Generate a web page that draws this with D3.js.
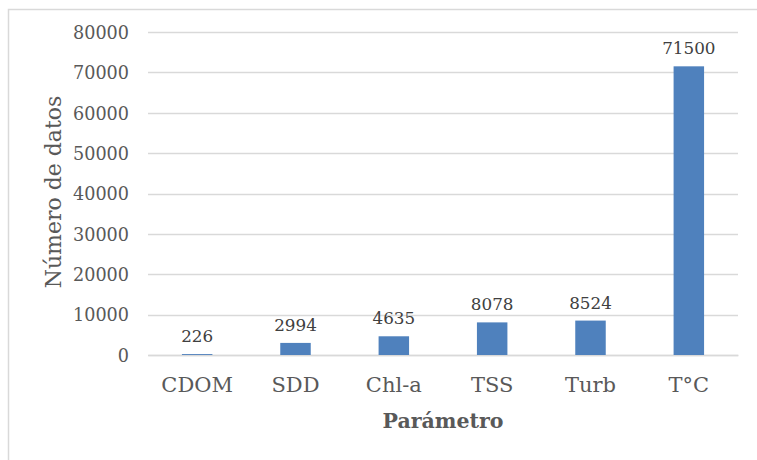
<!DOCTYPE html>
<html><head><meta charset="utf-8">
<script src="https://cdn.jsdelivr.net/npm/d3@7"></script>
<style>body{margin:0;background:#fff}svg{display:block}</style>
</head><body>
<script>
const categories = ["CDOM","SDD","Chl-a","TSS","Turb","T°C"];
const values = [226,2994,4635,8078,8524,71500];
const yTicks = [0,10000,20000,30000,40000,50000,60000,70000,80000];
const xTitle = "Parámetro";
const yTitle = "Número de datos";

const W=757,H=460;
const font = "'DejaVu Serif', serif";
const svg = d3.select("body").append("svg").attr("width",W).attr("height",H);
svg.append("rect").attr("width",W).attr("height",H).attr("fill","#fff");
// frame
svg.append("path").attr("d",`M8.5,${H} L8.5,9.5 L${W},9.5`).attr("fill","none").attr("stroke","#d9d9d9").attr("stroke-width",1.5);

const x = d3.scaleBand().domain(categories).range([148,738]).paddingInner(0.69).paddingOuter(0.345);
const y = d3.scaleLinear().domain([0,80000]).range([355,32]);

// gridlines
svg.append("g").selectAll("line").data(yTicks).join("line")
  .attr("x1",148).attr("x2",738).attr("y1",d=>Math.round(y(d))+0.5).attr("y2",d=>Math.round(y(d))+0.5)
  .attr("stroke","#d9d9d9").attr("stroke-width",1.3);

// y axis
const yAxis = svg.append("g").attr("transform","translate(148,0)")
  .call(d3.axisLeft(y).tickValues(yTicks).tickFormat(d3.format("d")).tickSize(0).tickPadding(19));
yAxis.select(".domain").remove();
yAxis.selectAll("text").attr("font-family",font).attr("font-size",17.6).attr("fill","#595959").attr("dy","0.36em");

// x axis
const xAxis = svg.append("g").attr("transform","translate(0,355)")
  .call(d3.axisBottom(x).tickSize(0).tickPadding(22));
xAxis.select(".domain").attr("stroke","#d9d9d9").attr("stroke-width",1.3);
xAxis.selectAll("text").attr("font-family",font).attr("font-size",21).attr("fill","#595959");

// bars
svg.append("g").selectAll("rect").data(values).join("rect")
  .attr("x",(d,i)=>x(categories[i])).attr("width",x.bandwidth())
  .attr("y",d=>y(d)).attr("height",d=>y(0)-y(d)).attr("fill","#4f81bd");

// data labels
svg.append("g").selectAll("text").data(values).join("text")
  .attr("x",(d,i)=>x(categories[i])+x.bandwidth()/2).attr("y",d=>y(d)-12)
  .attr("text-anchor","middle").attr("font-family",font).attr("font-size",16.8).attr("fill","#404040")
  .text(d=>d);

// axis titles
svg.append("text").attr("x",443).attr("y",428).attr("text-anchor","middle")
  .attr("font-family",font).attr("font-size",20.5).attr("font-weight","bold").attr("fill","#595959").text(xTitle);
svg.append("text").attr("transform","translate(61,192) rotate(-90)").attr("text-anchor","middle")
  .attr("font-family",font).attr("font-size",22).attr("fill","#595959").text(yTitle);
</script>
</body></html>
